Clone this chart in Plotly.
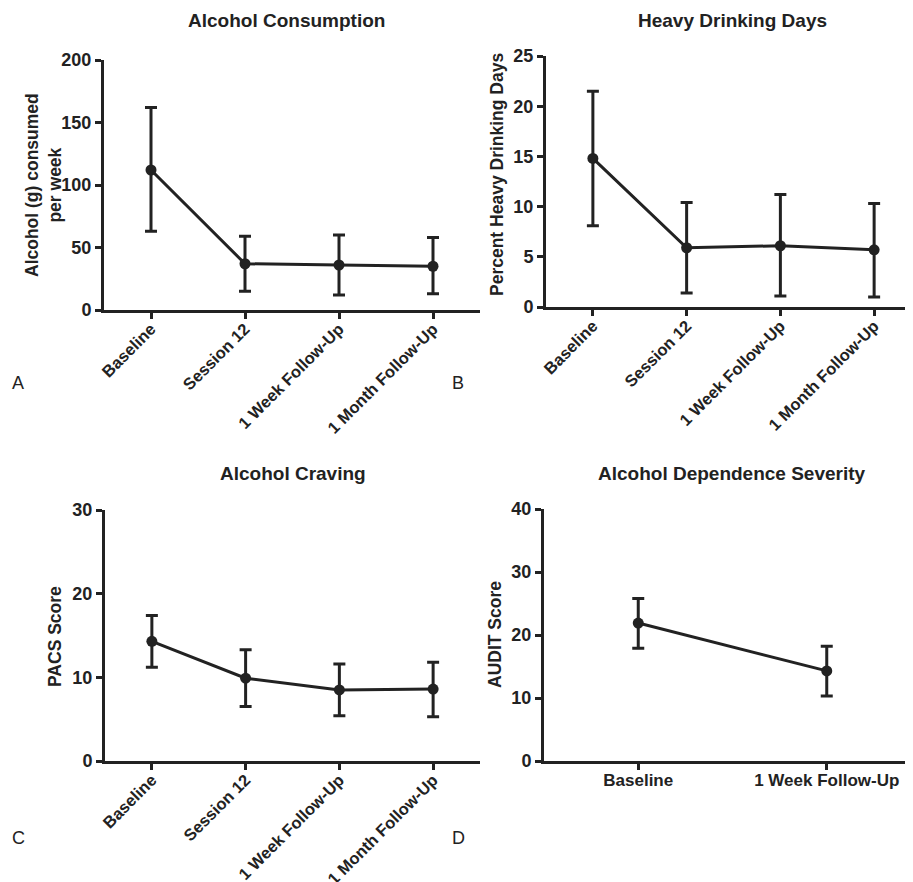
import plotly.graph_objects as go

# ---- data ----
categories_4 = ["Baseline", "Session 12", "1 Week Follow-Up", "1 Month Follow-Up"]
categories_2 = ["Baseline", "1 Week Follow-Up"]

consumption_mean = [112, 37, 36, 35]
consumption_upper = [162, 59, 60, 58]
consumption_lower = [63, 15, 12, 13]

heavy_mean = [14.8, 5.9, 6.1, 5.7]
heavy_upper = [21.5, 10.4, 11.2, 10.3]
heavy_lower = [8.1, 1.4, 1.1, 1.0]

pacs_mean = [14.3, 9.9, 8.5, 8.6]
pacs_upper = [17.4, 13.3, 11.6, 11.8]
pacs_lower = [11.2, 6.5, 5.4, 5.3]

audit_mean = [21.9, 14.3]
audit_upper = [25.8, 18.2]
audit_lower = [17.9, 10.3]

titles = ["Alcohol Consumption", "Heavy Drinking Days", "Alcohol Craving", "Alcohol Dependence Severity"]
ytitles = ["Alcohol (g) consumed<br>per week", "Percent Heavy Drinking Days", "PACS Score", "AUDIT Score"]
panel_letters = ["A", "B", "C", "D"]

INK = "#222222"
FONT = "Arial, Liberation Sans, sans-serif"
W, H = 913, 882
OFF = 8  # page offset of the figure inside the browser window

fig = go.Figure()

panels = [
    (categories_4, consumption_mean, consumption_upper, consumption_lower, "x", "y"),
    (categories_4, heavy_mean, heavy_upper, heavy_lower, "x2", "y2"),
    (categories_4, pacs_mean, pacs_upper, pacs_lower, "x3", "y3"),
    (categories_2, audit_mean, audit_upper, audit_lower, "x4", "y4"),
]
for cats, m, up, lo, xa, ya in panels:
    fig.add_trace(go.Scatter(
        x=list(range(len(cats))), y=m, xaxis=xa, yaxis=ya,
        mode="lines+markers",
        line=dict(color=INK, width=3),
        marker=dict(color=INK, size=11),
        error_y=dict(type="data", symmetric=False,
                     array=[u - v for u, v in zip(up, m)],
                     arrayminus=[v - l for v, l in zip(m, lo)],
                     color=INK, thickness=3, width=6),
        cliponaxis=False, showlegend=False, hoverinfo="y",
    ))


def px_x(p):
    return (p - OFF) / W


def px_y(p):
    return 1 - (p - OFF) / H


# domains (target pixel positions in the window)
dom = {
    1: dict(x=[px_x(104), px_x(480)], y=[px_y(310), px_y(60)]),
    2: dict(x=[px_x(546), px_x(921)], y=[px_y(307), px_y(56)]),
    3: dict(x=[px_x(105), px_x(480)], y=[px_y(761), px_y(510)]),
    4: dict(x=[px_x(544), px_x(921)], y=[px_y(761), px_y(509)]),
}
xranges = {1: [-0.5, 3.5], 2: [-0.5, 3.5], 3: [-0.5, 3.5], 4: [-0.5, 1.5]}
yranges = {1: [0, 200], 2: [0, 25], 3: [0, 30], 4: [0, 40]}
ydtick = {1: 50, 2: 5, 3: 10, 4: 10}
xcats = {1: categories_4, 2: categories_4, 3: categories_4, 4: categories_2}
xangle = {1: -45, 2: -45, 3: -45, 4: 0}
xfont = {1: 16.5, 2: 16.5, 3: 16.5, 4: 17}
xstand = {1: -6, 2: -6, 3: -6, 4: -4}

axis_common = dict(showline=True, linecolor=INK, linewidth=3, ticks="outside",
                   tickcolor=INK, tickwidth=3, ticklen=6, showgrid=False,
                   zeroline=False, fixedrange=True, automargin=False)

layout = dict(
    template="none",
    width=W, height=H, margin=dict(l=0, r=0, t=0, b=0, autoexpand=False),
    paper_bgcolor="white", plot_bgcolor="white",
    font=dict(family=FONT, color=INK),
    showlegend=False,
)
for i in range(1, 5):
    sx = "" if i == 1 else str(i)
    layout["xaxis" + sx] = dict(
        axis_common, domain=dom[i]["x"], range=xranges[i],
        anchor="y" + sx, tickmode="array",
        tickvals=list(range(len(xcats[i]))), ticktext=xcats[i],
        tickangle=xangle[i], ticklabelstandoff=xstand[i],
        tickfont=dict(family=FONT, size=xfont[i], color=INK, weight="bold"),
    )
    layout["yaxis" + sx] = dict(
        axis_common, domain=dom[i]["y"], range=yranges[i],
        anchor="x" + sx, dtick=ydtick[i], tick0=0,
        tickfont=dict(family=FONT, size=18, color=INK, weight="bold"),
    )
fig.update_layout(**layout)

# titles
title_pos = [(286, 20), (732, 20), (293, 473), (732, 473)]
for t, (x, y) in zip(titles, title_pos):
    fig.add_annotation(text="<b>%s</b>" % t, x=px_x(x), y=px_y(y), xref="paper", yref="paper",
                       showarrow=False, xanchor="center", yanchor="middle",
                       font=dict(family=FONT, size=19, color=INK))

# y axis titles
ytitle_pos = [(43, 185), (497, 175), (55, 637), (495, 635)]
for t, (x, y) in zip(ytitles, ytitle_pos):
    fig.add_annotation(text="<b>%s</b>" % t, x=px_x(x), y=px_y(y), xref="paper", yref="paper",
                       showarrow=False, xanchor="center", yanchor="middle", textangle=-90,
                       font=dict(family=FONT, size=17.5, color=INK))

# panel letters
letter_pos = [(18, 383), (458, 383), (18, 838), (458, 838)]
for t, (x, y) in zip(panel_letters, letter_pos):
    fig.add_annotation(text=t, x=px_x(x), y=px_y(y), xref="paper", yref="paper",
                       showarrow=False, xanchor="center", yanchor="middle",
                       font=dict(family=FONT, size=18, color=INK))

fig.write_html("out.html")
